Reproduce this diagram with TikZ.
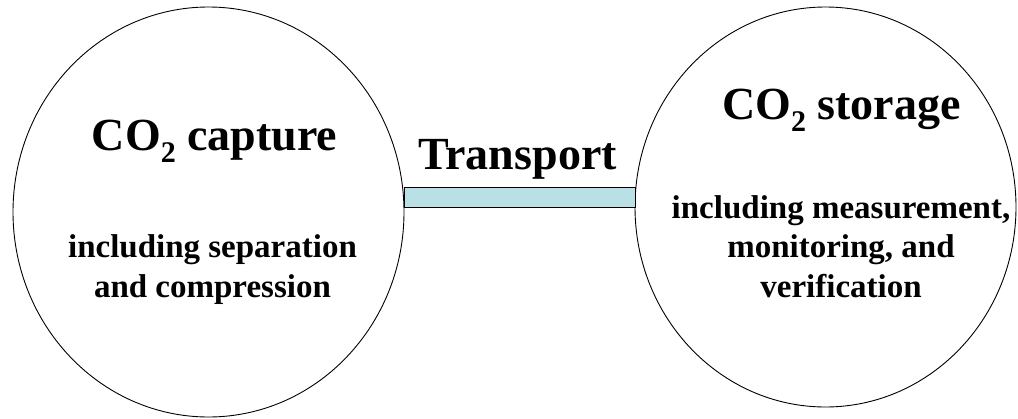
\documentclass[tikz,border=0pt]{standalone}
\usepackage{fontspec}
\setmainfont{Liberation Serif}
\usepackage{tikz}
\usetikzlibrary{shapes.geometric, positioning}
\definecolor{pipefill}{RGB}{185,224,228}
\tikzstyle{stage} = [draw=black, line width=0.9pt, ellipse, inner sep=0pt]
\tikzstyle{title} = [anchor=base, inner sep=0pt, font=\bfseries\fontsize{46}{55}\selectfont]
\tikzstyle{detail} = [anchor=base, inner sep=0pt, align=center, font=\bfseries\fontsize{33}{39.5}\selectfont]
\newcommand{\lowsub}[1]{\raisebox{-0.28em}{\fontsize{30}{30}\selectfont #1}}

\begin{document}
\begin{tikzpicture}[x=1pt, y=-1pt]
                    \useasboundingbox (0,0) rectangle (1018,418);
                    \node[stage, minimum width=391pt, minimum height=410pt] (capture) at (208.5, 212) {};
                    \node[stage, minimum width=381pt, minimum height=400pt] (storage) at (825.5, 207) {};
                    \node[draw=black, line width=0.9pt, fill=pipefill, inner sep=0pt, minimum width=231pt, minimum height=19.5pt] (pipe) at (519.5, 197.5) {};
                    \node[title] (capturetitle) at (214.5, 150) {CO\lowsub{2} capture};
                    \node[detail] (capturetext) at (212.5, 297) {including separation\\and compression};
                    \node[title] (transport) at (517.5, 169) {Transport};
                    \node[title] (storagetitle) at (841.5, 119) {CO\lowsub{2} storage};
                    \node[detail] (storagetext) at (841, 297) {including measurement,\\monitoring, and\\verification};
                \end{tikzpicture}
\end{document}
